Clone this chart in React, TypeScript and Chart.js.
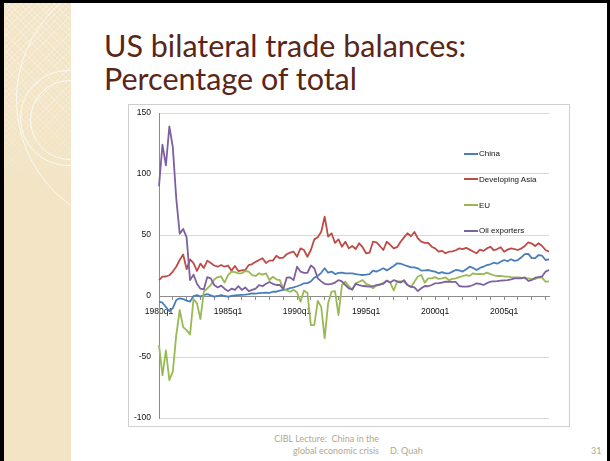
import React, { useEffect, useRef } from "react";
import { Chart, registerables } from "chart.js";

Chart.register(...registerables);

// ---- data ----
const START_YEAR = 1980;
const QUARTER_COUNT = 114; // 1980q1 .. 2008q2
const QUARTERS: string[] = Array.from(
  { length: QUARTER_COUNT },
  (_, i) => `${START_YEAR + Math.floor(i / 4)}q${(i % 4) + 1}`
);

const SERIES_NAMES = ["China", "Developing Asia", "EU", "Oil exporters"];
const SERIES_COLORS = ["#4a7ebb", "#be4b48", "#98b954", "#7d60a0"];

const CHINA = [
  -4.6, -5.5, -9, -12.5, -10, -3.3, -1.9, -2.5, -3.8, -4.6,
  0, 0.8, -0.5, 0.8, 1.6, 0.5, -0.5, 0, 0.8, 0,
  -0.5, 0, 0.5, 0.8, 1, 1.2, 1.5, 2.2, 2, 2.3,
  2.5, 2.7, 2.5, 3.5, 3.5, 4.4, 5, 5.5, 6.5, 7.1,
  8, 9, 10.4, 10.5, 12, 15, 16.5, 19, 22.7, 19.1,
  20, 18, 19, 19.1, 18.5, 18.6, 18.6, 18, 17.5, 17.2,
  17.5, 18, 20.8, 20, 21.3, 22.7, 21, 22.7, 24.6, 26.8,
  26.5, 25.4, 24.5, 23.5, 23.5, 22.7, 20.8, 21, 21.3, 20.5,
  20, 18.6, 19.5, 18.6, 18.5, 20, 21.3, 21, 20, 22,
  24, 23, 21.3, 23, 24, 25.4, 26, 27.3, 26.5, 28.1,
  29.5, 28.5, 30.1, 28.8, 29.5, 31.7, 34.4, 34.5, 31, 31,
  33.6, 33, 29.5, 30,
];

const DEVELOPING_ASIA = [
  13, 15.8, 16, 17, 20, 24, 29.5, 34, 22, 30,
  27, 20.5, 26.5, 23, 29, 27, 25, 24, 25.4, 24,
  25, 20.8, 24.6, 20.5, 21, 21.3, 25.4, 26.2, 28, 29.5,
  31, 27, 29, 29, 33, 31, 31.5, 34.2, 35.5, 36.3,
  32.2, 39, 37.7, 32.2, 37.7, 46.4, 48.1, 52.7, 65, 48.6,
  51.4, 43.5, 46.4, 40.4, 44.5, 39.1, 41, 38.5, 43.2, 40,
  35, 35.5, 44.5, 44, 41, 37.7, 44.5, 42, 39.1, 40,
  44.5, 48, 51.4, 49, 52.5, 47.3, 44.5, 43.5, 43.5, 40.4,
  39, 36.3, 37, 35, 36.3, 36.5, 37.5, 39, 38.5, 39.5,
  38, 36.5, 35, 38, 37, 39, 40.4, 37.5, 38.5, 40,
  36.3, 38, 39, 38.5, 37.7, 39, 41, 44, 43, 41,
  43.2, 41, 37.7, 36.3,
];

const EU = [
  -40, -65, -44.5, -69, -62, -32, -11.5, -25.5, -28, -31.5,
  -2.5, -6, -19, 3.5, 6.3, 9, 13.5, 15.5, 16, 11,
  17.2, 20, 19.5, 18.6, 18.6, 20.5, 20, 17.2, 16.4, 18.6,
  17.5, 18.6, 13.1, 15.8, 13.7, 13, 6, 4.5, 3.5, 5,
  3, -4.6, 4.5, 2.5, -23.8, -23.8, -4, -8.8, -34.7, -6,
  3.5, 4, -15.6, 9, 11.7, 8, 5, 10.5, 11.7, 13,
  10, 9, 6.3, 8.5, 9, 10.9, 12.6, 11, 4.5, 11.7,
  12, 11.7, 9, 7.1, 11.7, 16, 17.2, 11, 14.5, 14.5,
  15.5, 14, 14.5, 15.3, 13.1, 14, 14.5, 15.5, 16.4, 17.2,
  16.5, 18.6, 18, 18.2, 18, 19.1, 18, 17, 16.4, 16.5,
  16, 15.8, 15.5, 15.3, 15.3, 15, 14.5, 14.5, 14, 13.9,
  15.3, 15, 11.7, 12,
];

const OIL_EXPORTERS = [
  90, 124, 107, 139, 122, 80, 51, 55, 48, 13,
  17.5, 10, 6, 5.5, 15.5, 14.5, 9, 7, 8.5, 6,
  4, 6, 5, 8, 5, 7, 4, 5, 6, 9,
  8, 10, 11.5, 10, 9, 9, 5.5, 15, 15.3, 13,
  24, 20, 19, 19, 25, 22.7, 14.5, 12, 10, 9.5,
  10, 11, 13, 12, 9, 6.3, 5.5, 10, 9, 8.2,
  8, 7.7, 8, 9, 9.5, 10, 12.6, 11, 13, 12,
  11, 13, 9, 7.7, 7.1, 4, 6.3, 8.2, 8, 9,
  10.4, 10.5, 11, 11.7, 11.7, 11.5, 11.5, 8.2, 7.7, 7.7,
  8, 9, 10.4, 10, 9, 10.5, 11.7, 12, 12.2, 12.6,
  12.8, 13, 13.7, 14.5, 14.5, 14.5, 15.3, 12.3, 13, 15,
  15.5, 16, 20, 21.3,
];

const SERIES_VALUES = [CHINA, DEVELOPING_ASIA, EU, OIL_EXPORTERS];

const Y_MIN = -100;
const Y_MAX = 150;
const Y_STEP = 50;
const LABEL_EVERY = 20; // quarters between axis labels
const TICK_EVERY = 4; // quarters between tick marks

const TITLE_LINES = ["US bilateral trade balances:", "Percentage of total"];
const FOOTER_LINES = ["CIBL Lecture:  China in the", "global economic crisis"];
const FOOTER_AUTHOR = "D. Quah";
const SLIDE_NUMBER = "31";

const AXIS_FONT = '"Liberation Sans", Arial, sans-serif';

export default function App() {
  const canvasRef = useRef<HTMLCanvasElement | null>(null);

  useEffect(() => {
    const canvas = canvasRef.current;
    if (!canvas) return;
    const chart = new Chart(canvas, {
      type: "line",
      data: {
        labels: QUARTERS,
        datasets: SERIES_NAMES.map((name, i) => ({
          label: name,
          data: SERIES_VALUES[i],
          borderColor: SERIES_COLORS[i],
          backgroundColor: SERIES_COLORS[i],
          borderWidth: 1.8,
          pointRadius: 0,
          tension: 0,
          fill: false,
          borderJoinStyle: "round" as const,
          order: SERIES_NAMES.length - 1 - i,
        })),
      },
      options: {
        animation: false,
        responsive: false,
        maintainAspectRatio: false,
        events: [],
        layout: { padding: { left: 0, top: 8, right: 20, bottom: 8 } },
        plugins: {
          legend: { display: false },
          tooltip: { enabled: false },
        },
        scales: {
          x: {
            type: "category",
            position: { y: 0 } as any,
            offset: false,
            grid: {
              display: true,
              drawOnChartArea: false,
              drawTicks: true,
              tickLength: 3,
              lineWidth: 1,
              color: (ctx: any) =>
                ctx.index % TICK_EVERY === 0 ? "#8c8c8c" : "rgba(0,0,0,0)",
            },
            border: { display: true, color: "#8c8c8c", width: 1 },
            ticks: {
              autoSkip: false,
              maxRotation: 0,
              minRotation: 0,
              padding: 8,
              color: "#111",
              font: { family: AXIS_FONT, size: 8.5 },
              callback: (_v: any, index: number) =>
                index % LABEL_EVERY === 0 ? QUARTERS[index] : "",
            },
          },
          y: {
            type: "linear",
            min: Y_MIN,
            max: Y_MAX,
            afterFit: (scale: any) => {
              scale.width = 30;
              scale.paddingTop = 0;
              scale.paddingBottom = 0;
            },
            grid: {
              drawTicks: false,
              lineWidth: 1,
              color: (ctx: any) =>
                ctx.tick && ctx.tick.value === 0 ? "#8c8c8c" : "#d9d9d9",
            },
            border: { display: true, color: "#8c8c8c", width: 1 },
            ticks: {
              stepSize: Y_STEP,
              padding: 8,
              color: "#111",
              font: { family: AXIS_FONT, size: 8.5 },
            },
          },
        },
      },
    });
    return () => chart.destroy();
  }, []);

  return (
    <div
      style={{
        position: "fixed",
        left: 0,
        top: 0,
        width: 610,
        height: 461,
        background: "#ffffff",
        overflow: "hidden",
      }}
    >
      {/* black frame */}
      <div
        style={{
          position: "absolute",
          left: 0,
          top: 0,
          width: 610,
          height: 470,
          boxSizing: "border-box",
          borderTop: "3px solid #000",
          borderLeft: "4px solid #000",
          borderRight: "3px solid #000",
        }}
      />
      {/* decorative left strip */}
      <div
        style={{
          position: "absolute",
          left: 4,
          top: 3,
          width: 67,
          height: 458,
          overflow: "hidden",
          background: "#f2e4c4",
        }}
      >
        <div
          style={{
            position: "absolute",
            left: 0,
            top: 0,
            width: 67,
            height: 200,
            backgroundImage:
              "repeating-linear-gradient(45deg, rgba(255,255,255,0.28) 0px, rgba(255,255,255,0.28) 1px, transparent 1px, transparent 4px), repeating-linear-gradient(-45deg, rgba(255,255,255,0.28) 0px, rgba(255,255,255,0.28) 1px, transparent 1px, transparent 4px)",
            WebkitMaskImage: "linear-gradient(to bottom, #000 0%, #000 40%, transparent 100%)",
            maskImage: "linear-gradient(to bottom, #000 0%, #000 40%, transparent 100%)",
          }}
        />
        <div
          style={{
            position: "absolute",
            left: 146 - 130 - 4,
            top: 97 - 130,
            width: 260,
            height: 260,
            borderRadius: "50%",
            border: "1.5px solid rgba(255,255,255,0.75)",
            boxSizing: "border-box",
          }}
        />
        <div
          style={{
            position: "absolute",
            left: 68 - 48 - 4,
            top: 115 - 48,
            width: 96,
            height: 96,
            borderRadius: "50%",
            border: "1.5px solid rgba(255,255,255,0.8)",
            boxSizing: "border-box",
          }}
        />
        <div
          style={{
            position: "absolute",
            left: 70 - 40 - 4,
            top: 117 - 40,
            width: 80,
            height: 80,
            borderRadius: "50%",
            border: "1.5px solid rgba(255,255,255,0.8)",
            boxSizing: "border-box",
          }}
        />
      </div>

      {/* title */}
      <div
        style={{
          position: "absolute",
          left: 104,
          top: 29,
          fontFamily: "Lato, 'Open Sans', sans-serif",
          fontSize: 30.5,
          lineHeight: "33px",
          color: "#5a2618",
          whiteSpace: "nowrap",
        }}
      >
        {TITLE_LINES.map((t) => (
          <div key={t}>{t}</div>
        ))}
      </div>

      {/* chart box */}
      <div
        style={{
          position: "absolute",
          left: 128,
          top: 104,
          width: 442,
          height: 323,
          boxSizing: "border-box",
          border: "1px solid #cfcfcf",
          background: "#fff",
        }}
      >
        <canvas
          ref={canvasRef}
          width={440}
          height={321}
          style={{ position: "absolute", left: 0, top: 0, width: 440, height: 321 }}
        />
      </div>

      {/* legend */}
      {SERIES_NAMES.map((name, i) => (
        <div
          key={name}
          style={{
            position: "absolute",
            left: 464,
            top: 148 + i * 25.8,
            height: 11,
            display: "flex",
            alignItems: "center",
            fontFamily: AXIS_FONT,
            fontSize: 8,
            color: "#111",
            whiteSpace: "nowrap",
          }}
        >
          <span
            style={{
              display: "inline-block",
              width: 14,
              height: 2,
              background: SERIES_COLORS[i],
              marginRight: 1,
            }}
          />
          <span>{name}</span>
        </div>
      ))}

      {/* footer */}
      <div
        style={{
          position: "absolute",
          right: 610 - 379,
          top: 433,
          fontFamily: "Lato, 'Open Sans', sans-serif",
          fontSize: 9,
          lineHeight: "12px",
          color: "#b5a78a",
          textAlign: "right",
          whiteSpace: "pre",
        }}
      >
        {FOOTER_LINES.map((t) => (
          <div key={t}>{t}</div>
        ))}
      </div>
      <div
        style={{
          position: "absolute",
          left: 390,
          top: 445,
          fontFamily: "Lato, 'Open Sans', sans-serif",
          fontSize: 9,
          lineHeight: "12px",
          color: "#b5a78a",
          whiteSpace: "nowrap",
        }}
      >
        {FOOTER_AUTHOR}
      </div>
      <div
        style={{
          position: "absolute",
          left: 591,
          top: 445,
          fontFamily: "Lato, 'Open Sans', sans-serif",
          fontSize: 9,
          lineHeight: "12px",
          color: "#b5a78a",
          whiteSpace: "nowrap",
        }}
      >
        {SLIDE_NUMBER}
      </div>
    </div>
  );
}
